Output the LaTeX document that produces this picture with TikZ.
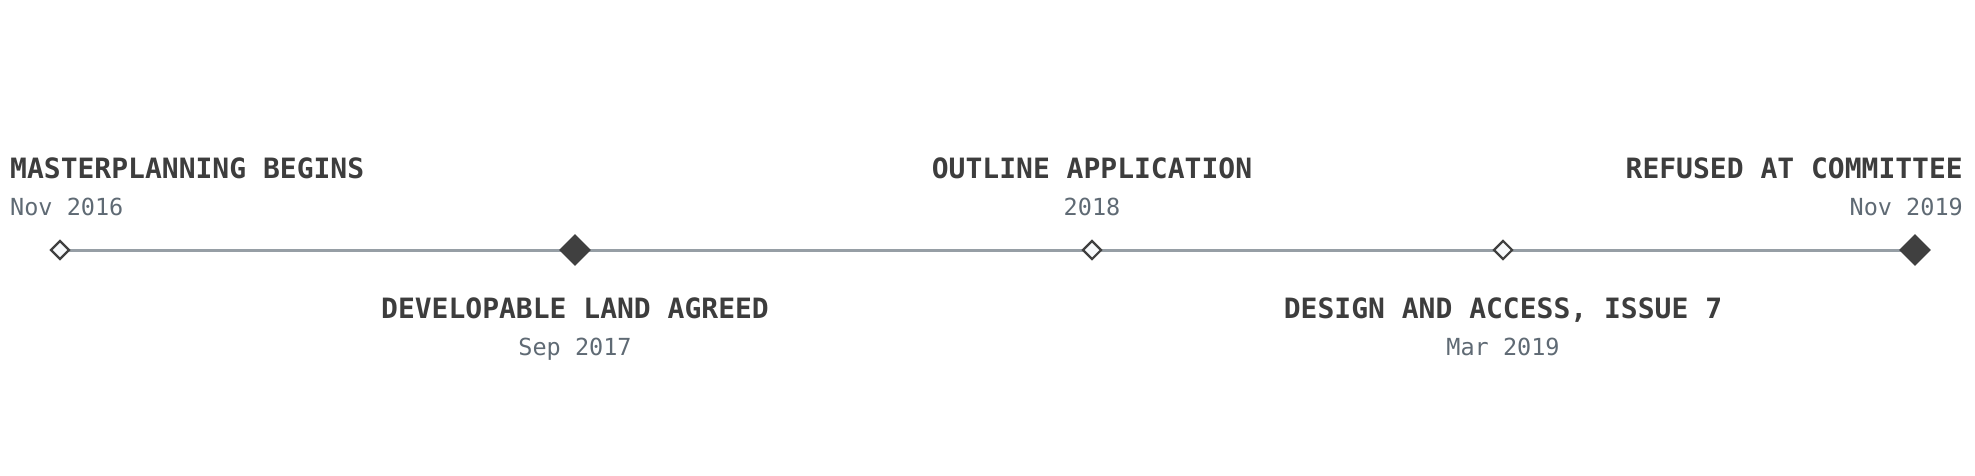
\documentclass[tikz,border=0pt]{standalone}
\usepackage{fontspec}
\setmonofont{DejaVu Sans Mono}
\usetikzlibrary{shapes.geometric}
\definecolor{titlegrey}{HTML}{3D3D3D}
\definecolor{dategrey}{HTML}{5F6A74}
\definecolor{axisgrey}{HTML}{969EA5}
\definecolor{markdark}{HTML}{404040}
\definecolor{markpale}{HTML}{F7F9FB}

\begin{document}
\begin{tikzpicture}[x=1pt, y=-1pt,
  every node/.style={inner sep=0pt},
  event/.style={font=\ttfamily\bfseries\fontsize{28}{32}\selectfont, text=titlegrey},
  when/.style={font=\ttfamily\fontsize{23.5}{28}\selectfont, text=dategrey},
  openmark/.style={diamond, draw=markdark, fill=markpale, line width=2.2pt, minimum width=19pt, minimum height=19pt},
  keymark/.style={diamond, fill=markdark, minimum width=32pt, minimum height=32pt}]
\useasboundingbox (0,0) rectangle (1975,475);
% Axis
\coordinate (c1) at (60,250);
\coordinate (c2) at (575,250);
\coordinate (c3) at (1092,250);
\coordinate (c4) at (1503,250);
\coordinate (c5) at (1915,250);
\draw [axisgrey, line width=3pt] (c1) -- (c5);
% Markers
\node [openmark] (m1) at (c1) {};
\node [keymark] (m2) at (c2) {};
\node [openmark] (m3) at (c3) {};
\node [openmark] (m4) at (c4) {};
\node [keymark] (m5) at (c5) {};
% Labels
\node [event, anchor=base west] (t1) at (10,178) {MASTERPLANNING BEGINS};
\node [when, anchor=base west] (d1) at (10,215) {Nov 2016};
\node [event, anchor=base] (t2) at (575,318) {DEVELOPABLE LAND AGREED};
\node [when, anchor=base] (d2) at (575,355) {Sep 2017};
\node [event, anchor=base] (t3) at (1092,178) {OUTLINE APPLICATION};
\node [when, anchor=base] (d3) at (1092,215) {2018};
\node [event, anchor=base] (t4) at (1503,318) {DESIGN AND ACCESS, ISSUE 7};
\node [when, anchor=base] (d4) at (1503,355) {Mar 2019};
\node [event, anchor=base east] (t5) at (1963,178) {REFUSED AT COMMITTEE};
\node [when, anchor=base east] (d5) at (1963,215) {Nov 2019};
\end{tikzpicture}
\end{document}
